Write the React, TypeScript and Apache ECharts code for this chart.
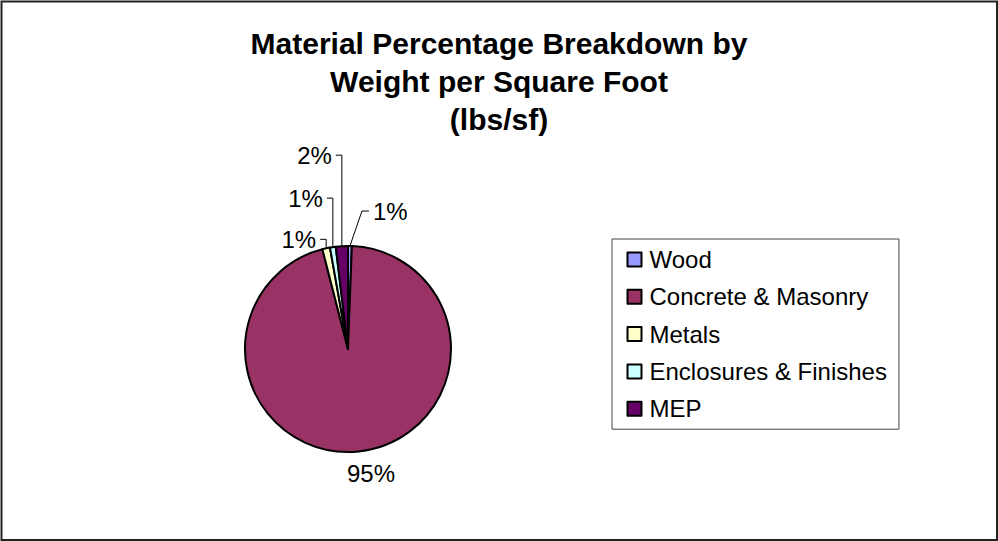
import React, { useEffect, useRef } from "react";
import * as echarts from "echarts";

const TITLE_LINES = ["Material Percentage Breakdown by", "Weight per Square Foot", "(lbs/sf)"];
const CATEGORIES = ["Wood", "Concrete & Masonry", "Metals", "Enclosures & Finishes", "MEP"];
const VALUES = [0.6, 95.4, 1.2, 0.9, 1.9];
const COLORS = ["#9999FF", "#993366", "#FFFFCC", "#CCFFFF", "#660066"];

// label placement relative to the slice's edge point (layout only)
const LABEL_RISE = [35, 0, 9, 49, 91];
const LABEL_SIDE = [1, 0, -1, -1, -1];

const FONT = "'Liberation Sans', Arial, Helvetica, sans-serif";

export default function App() {
  const ref = useRef<HTMLDivElement>(null);
  useEffect(() => {
    if (!ref.current) return;
    const chart = echarts.init(ref.current, null, { renderer: "svg" });
    const cx = 348, cy = 349, R = 103;
    const total = VALUES.reduce((a, b) => a + b, 0);
    const edgeOf = (i: number) => {
      let before = 0;
      for (let k = 0; k < i; k++) before += VALUES[k];
      const mid = ((before + VALUES[i] / 2) / total) * Math.PI * 2;
      return [cx + R * Math.sin(mid), cy - R * Math.cos(mid)];
    };
    chart.setOption({
      animation: false,
      backgroundColor: "#ffffff",
      title: {
        text: TITLE_LINES.join("\n"),
        left: "center",
        top: 19,
        textStyle: {
          fontFamily: FONT,
          fontSize: 30,
          fontWeight: "bold",
          lineHeight: 38,
          color: "#000",
        },
      },
      legend: {
        orient: "vertical",
        left: 612,
        top: 239,
        padding: [8.5, 12, 8.5, 14.5],
        itemGap: 13.3,
        itemWidth: 14,
        itemHeight: 14,
        icon: "rect",
        borderColor: "#444",
        borderWidth: 1,
        itemStyle: { borderColor: "#000", borderWidth: 2 },
        textStyle: {
          fontFamily: FONT,
          fontSize: 24,
          lineHeight: 24,
          color: "#000",
          padding: [0, 0, 0, 3],
        },
        selectedMode: false,
        data: CATEGORIES,
      },
      graphic: [
        {
          type: "rect",
          shape: { x: 1.5, y: 1.5, width: 995.5, height: 538.5 },
          style: { fill: "none", stroke: "#222", lineWidth: 2 },
          silent: true,
        },
      ],
      series: [
        {
          type: "pie",
          center: [cx, cy],
          radius: R,
          startAngle: 90,
          clockwise: true,
          avoidLabelOverlap: false,
          color: COLORS,
          itemStyle: { borderColor: "#000", borderWidth: 2 },
          emphasis: { disabled: true },
          label: {
            show: true,
            position: "outside",
            fontFamily: FONT,
            fontSize: 24,
            color: "#000",
            formatter: (p: any) => Math.round(p.value) + "%",
          },
          labelLine: {
            show: true,
            length: 10,
            length2: 10,
            lineStyle: { color: "#000", width: 1 },
          },
          labelLayout: (p: any) => {
            const i = p.dataIndex;
            const pts = p.labelLinePoints;
            const e = pts && pts[0] ? pts[0] : edgeOf(i);
            const ex = e[0], ey = e[1];
            if (LABEL_SIDE[i] === 0) {
              return {
                x: ex + 12,
                y: ey + 22,
                align: "center",
                verticalAlign: "middle",
                labelLinePoints: [[ex, ey], [ex, ey], [ex, ey]],
              };
            }
            const ly = ey - LABEL_RISE[i];
            if (LABEL_SIDE[i] > 0) {
              return {
                x: ex + 23,
                y: ly,
                align: "left",
                verticalAlign: "middle",
                labelLinePoints: [[ex, ey], [ex + 12, ly], [ex + 19, ly]],
              };
            }
            return {
              x: ex - 10,
              y: ly,
              align: "right",
              verticalAlign: "middle",
              labelLinePoints: [[ex, ey], [ex, ly], [ex - 6, ly]],
            };
          },
          data: CATEGORIES.map((name, i) => ({ name, value: VALUES[i] })),
        },
      ],
    });
    return () => chart.dispose();
  }, []);
  return (
    <div
      ref={ref}
      style={{ position: "fixed", left: 0, top: 0, width: 998, height: 541 }}
    />
  );
}
